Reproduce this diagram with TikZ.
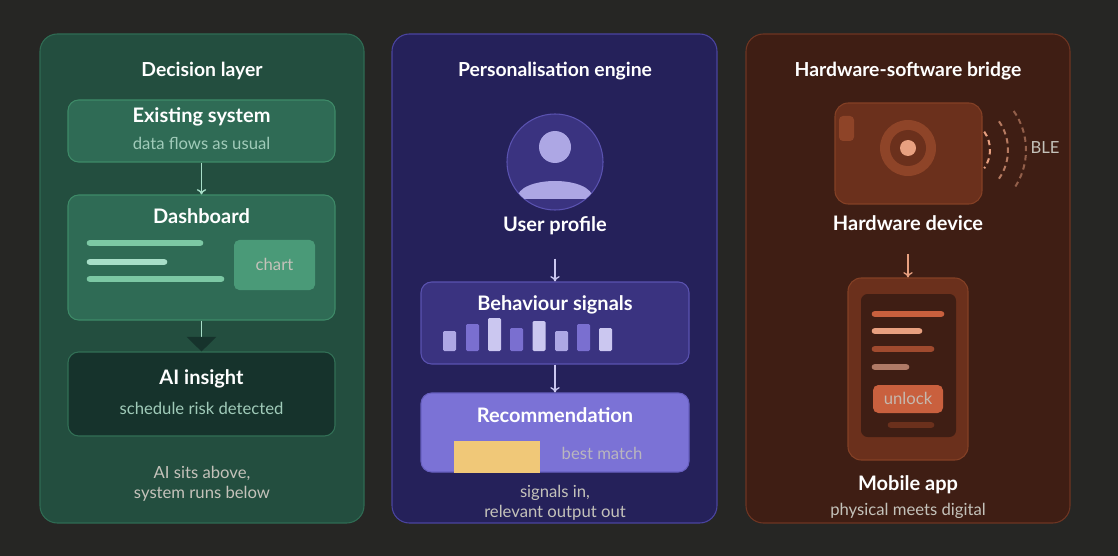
\documentclass[tikz,border=0pt]{standalone}
\usepackage{fontspec}
\setmainfont{Lato}
\usetikzlibrary{shapes.geometric,arrows.meta,calc}
\definecolor{pagebg}{HTML}{262624}
\definecolor{gpanel}{HTML}{234E3F}\definecolor{gline}{HTML}{2F6B53}
\definecolor{gbox}{HTML}{2F6B55}\definecolor{gboxline}{HTML}{3E8A68}
\definecolor{gdark}{HTML}{16332C}\definecolor{gbar}{HTML}{7CC8A4}
\definecolor{gbarl}{HTML}{A8DEC8}\definecolor{gchart}{HTML}{4A9A78}
\definecolor{ppanel}{HTML}{25215A}\definecolor{pline}{HTML}{4A44A0}
\definecolor{pbox}{HTML}{3A3380}\definecolor{pboxline}{HTML}{5A52B0}
\definecolor{plight}{HTML}{ADA7E4}\definecolor{pmid}{HTML}{7A6FD0}
\definecolor{ptop}{HTML}{CBC7F0}\definecolor{prec}{HTML}{7B72D6}
\definecolor{star}{HTML}{F0C878}
\definecolor{opanel}{HTML}{3F1E14}\definecolor{oline}{HTML}{6E3522}
\definecolor{obox}{HTML}{6B301C}\definecolor{oboxline}{HTML}{844025}
\definecolor{oring}{HTML}{8E4428}\definecolor{odot}{HTML}{E8A080}
\definecolor{obar}{HTML}{C9603E}\definecolor{obar2}{HTML}{A04A2E}
\definecolor{obar3}{HTML}{B07A66}
\definecolor{greytext}{HTML}{C4C2BA}
\tikzset{
  panel/.style={rounded corners=13pt, line width=0.8pt},
  box/.style={rounded corners=8pt, line width=0.8pt, inner sep=0pt},
  head/.style={text=white, font=\fontsize{15}{18}\selectfont\bfseries},
  title/.style={text=white, font=\fontsize{14.5}{17}\selectfont\bfseries},
  sub/.style={font=\fontsize{12.5}{15}\selectfont},
  bar/.style={line width=5pt, line cap=round},
  arr/.style={-{To[length=4pt,width=7pt]}, line width=1pt},
}
\begin{document}
\begin{tikzpicture}[x=0.75pt,y=-0.75pt]
\fill[pagebg] (0,0) rectangle (1118,556);
\useasboundingbox (0,0) rectangle (1118,556);
% decision layer
\draw[panel, fill=gpanel, draw=gline] (40,34) rectangle (364,523);
\node[title] (dtitle) at (202,71) {Decision layer};
\node[box, fill=gbox, draw=gboxline, minimum width=200.25pt, minimum height=46.5pt] (exist) at (201.5,131) {};
\node[head] at (201.5,117) {Existing system};
\node[sub, text=gbarl!80!gray] at (201.5,143) {data flows as usual};
\node[box, fill=gbox, draw=gboxline, minimum width=200.25pt, minimum height=93.75pt] (dash) at (201.5,257.5) {};
\node[head] at (201.5,216) {Dashboard};
\draw[bar, gbar] (90,243) -- (200,243);
\draw[bar, gbarl] (90,262) -- (164,262);
\draw[bar, gbar] (90,279) -- (221,279);
\node[box, fill=gchart, minimum width=60.75pt, minimum height=37.5pt, rounded corners=4pt] (chart) at (274.5,265) {};
\node[sub, text=greytext] at (274.5,264) {chart};
\node[box, fill=gdark, draw=gboxline!70!gdark, minimum width=200.25pt, minimum height=63pt] (insight) at (201.5,394) {};
\node[head] at (201.5,379) {AI insight};
\node[sub, text=gbarl!80!gray] at (201.5,408) {schedule risk detected};
\draw[arr, gbarl] (exist.south) -- (dash.north);
\draw[gbarl, line width=1pt, -{Triangle[width=22pt,length=11pt,color=gdark]}] (dash.south) -- (insight.north);
\node[sub, text=greytext, align=center] (dnote) at (202,484) {AI sits above,\\system runs below};
% personalisation engine
\draw[panel, fill=ppanel, draw=pline] (392,34) rectangle (717,523);
\node[title] (ptitle) at (555,71) {Personalisation engine};
\node[circle, fill=pbox, draw=pboxline, minimum size=72pt, line width=0.8pt] (avatar) at (555,162) {};
\begin{scope}
  \clip (555,162) circle (48);
  \fill[plight] (555,147) circle (16);
  \fill[plight] (517,199) .. controls (517,175) and (593,175) .. (593,199) -- cycle;
\end{scope}
\node[head] (uprof) at (555,226) {User profile};
\node[box, fill=pbox, draw=pboxline, minimum width=201pt, minimum height=61.5pt] (signals) at (555,323) {};
\node[head] at (555,305) {Behaviour signals};
\foreach \bx/\by/\bc in {449.5/331/plight, 472.5/324/pmid, 494.5/318/ptop, 516.5/328/pmid,
                         539/321/ptop, 561.5/331/plight, 583.5/324/pmid, 605.5/328/ptop}
  \fill[\bc, rounded corners=1pt] (\bx-6.5,\by) rectangle (\bx+6.5,351);
\node[box, fill=prec, draw=pboxline!60!prec, minimum width=201pt, minimum height=59.25pt] (recom) at (555,432.5) {};
\node[head] at (555,415) {Recommendation};
\foreach \sx in {470,497,524}
  \node[star, star points=5, star point ratio=2.3, fill=star, minimum size=24pt, inner sep=0pt] at (\sx,457) {};
\node[sub, text=greytext!85!prec] at (602,453) {best match};
\draw[arr, ptop] ([yshift=-14pt]uprof.south) -- (signals.north);
\draw[arr, ptop] (signals.south) -- (recom.north);
\node[sub, text=greytext, align=center] (pnote) at (555,503) {signals in,\\relevant output out};
% hardware-software bridge
\draw[panel, fill=opanel, draw=oline] (746,34) rectangle (1070,523);
\node[title] (htitle) at (908,71) {Hardware-software bridge};
\node[box, fill=obox, draw=oboxline, minimum width=110.25pt, minimum height=75.75pt, rounded corners=10pt] (device) at (908.5,153.5) {};
\fill[oring, rounded corners=3pt] (839,116) rectangle (854,141);
\fill[oring] (908,148) circle (28);
\fill[obox] (908,148) circle (18);
\fill[odot] (908,148) circle (8);
\foreach \r/\c in {32/odot, 50/odot!70!opanel, 68/odot!50!opanel}
  \draw[\c, line width=1.5pt, dash pattern=on 4pt off 3pt] ($(958,150)+(-35:\r)$) arc[start angle=-35, end angle=35, radius=\r];
\node[sub, text=greytext] (ble) at (1045,148) {BLE};
\node[head] (hdev) at (908,223) {Hardware device};
\node[box, fill=obox, draw=oboxline, minimum width=90pt, minimum height=136.5pt, rounded corners=10pt] (phone) at (908,369) {};
\fill[opanel, rounded corners=5pt] (861,294) rectangle (956,437);
\draw[bar, obar] (875,314) -- (941,314);
\draw[bar, odot] (875,331) -- (919,331);
\draw[bar, obar2] (875,349) -- (931,349);
\draw[bar, obar3] (875,367) -- (906,367);
\node[box, fill=obar, minimum width=52.5pt, minimum height=21pt, rounded corners=4pt] (unlock) at (908,399) {};
\node[sub, text=greytext!90!obar] at (908,398) {unlock};
\draw[bar, obox] (891,425) -- (931,425);
\draw[arr, odot] ([yshift=-14pt]hdev.south) -- (phone.north);
\node[head] (mapp) at (908,485) {Mobile app};
\node[sub, text=greytext] (hnote) at (908,511) {physical meets digital};
\end{tikzpicture}
\end{document}
